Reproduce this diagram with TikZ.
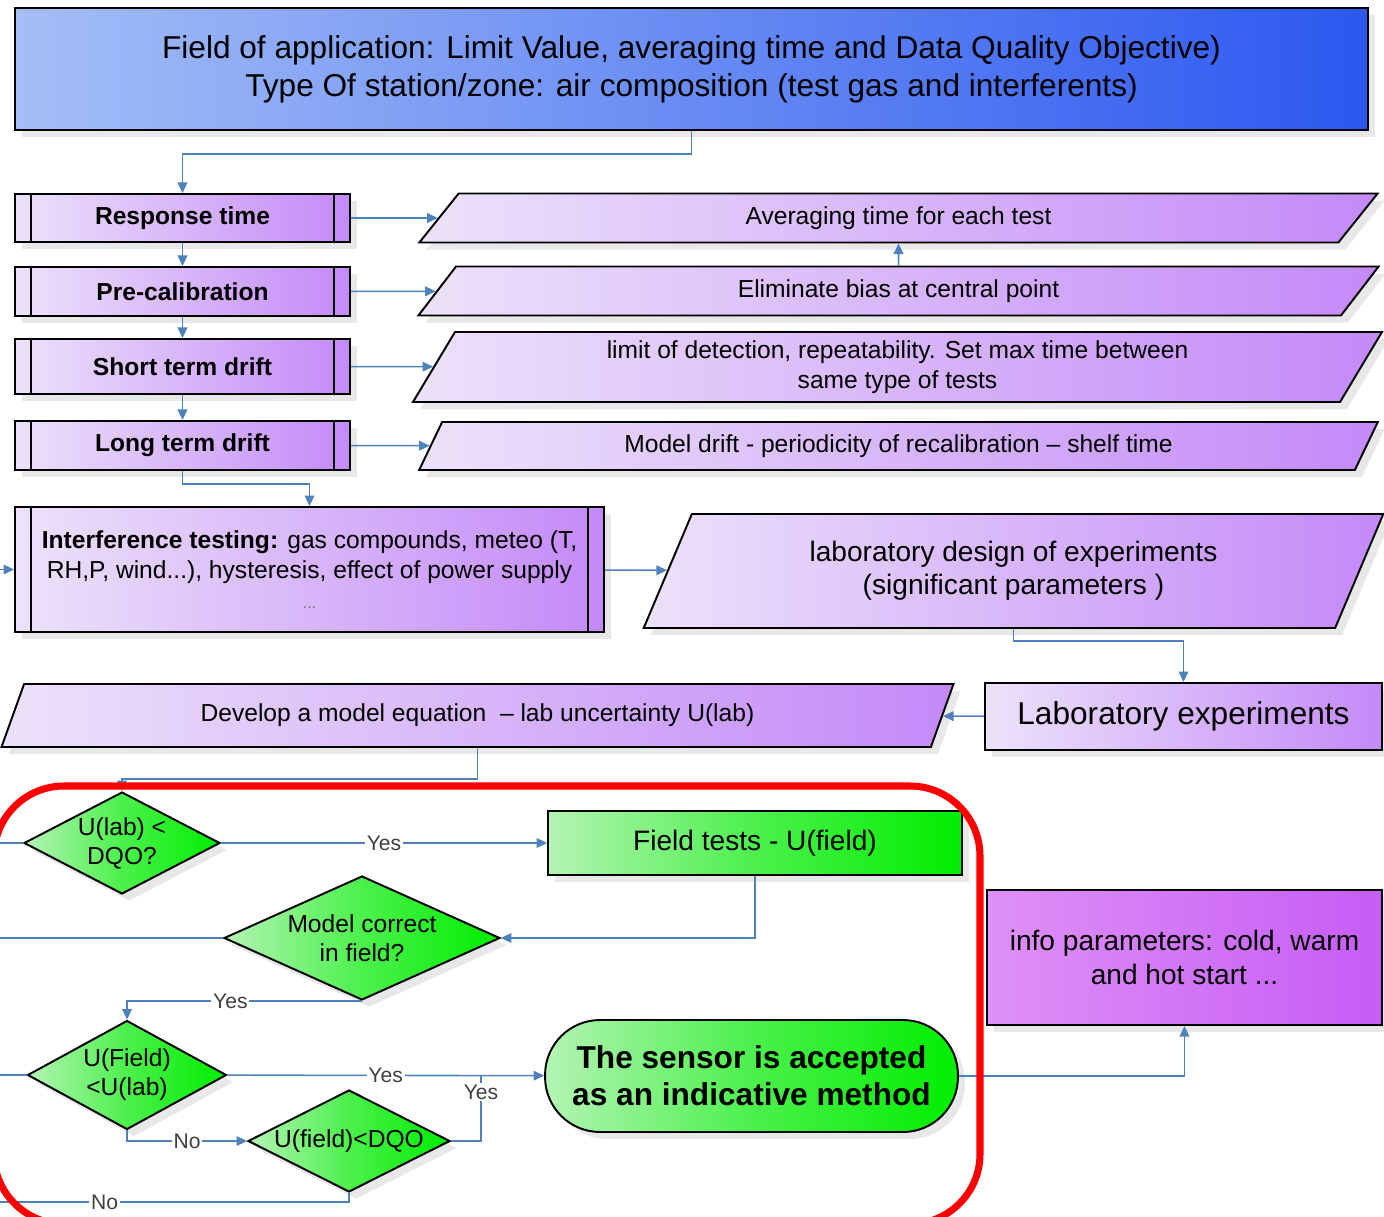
\documentclass[tikz,border=0pt]{standalone}
\usepackage{fontspec}
\setmainfont{Liberation Sans}
\usetikzlibrary{shapes.geometric,arrows.meta,shadows}
\definecolor{flowblue}{HTML}{4F81BD}
\definecolor{lavlight}{HTML}{ECE2FA}
\definecolor{lavdark}{HTML}{C48AF8}
\definecolor{magenlight}{HTML}{DE90F6}
\definecolor{magendark}{HTML}{C65CF5}
\definecolor{grnlight}{HTML}{B4F4B4}
\definecolor{grnmid}{HTML}{4CF04C}
\definecolor{grndark}{HTML}{00EE00}
\definecolor{toplight}{HTML}{A4BEF6}
\definecolor{topdark}{HTML}{2C58F0}
\newcommand{\fs}[2]{\fontsize{#1}{#2}\selectfont}
\begin{document}
\begin{tikzpicture}[x=0.02cm,y=-0.02cm,
        boxshadow/.style={drop shadow={shadow xshift=4pt,shadow yshift=-4pt,opacity=0.18}},
        lavbox/.style={draw,line width=1.1pt,left color=lavlight,right color=lavdark,boxshadow,align=center,inner sep=2pt},
        stepbox/.style={lavbox,rectangle,font=\fs{14}{17}\bfseries},
        parabox/.style={lavbox,trapezium,trapezium left angle=65,trapezium right angle=115,trapezium stretches=true,font=\fs{14}{17}},
        greenbox/.style={draw,line width=1.1pt,left color=grnlight,right color=grndark,middle color=grnmid,boxshadow,align=center},
        decide/.style={greenbox,diamond,shape aspect=2,inner sep=-4pt,font=\fs{14}{16.5}},
        conn/.style={flowblue,line width=0.9pt,-{Triangle[length=6pt,width=5.5pt]}},
        wire/.style={flowblue,line width=0.9pt},
        yesno/.style={fill=white,inner sep=1pt,text=black!75,font=\fs{12}{14}}]
        \useasboundingbox (0,0) rectangle (1384,1217);
        \coordinate (edge) at (0,0);
        \node[draw,line width=1.1pt,left color=toplight,right color=topdark,boxshadow,align=center,
              minimum width=27.06cm,minimum height=2.44cm,font=\fs{18}{21.5}] (app) at (691.5,69)
              {Field of application: Limit Value, averaging time and Data Quality Objective)\\Type Of station/zone: air composition (test gas and interferents)};
        \node[stepbox,minimum width=6.7cm,minimum height=0.96cm] (resp) at (182.5,218) {Response time};
        \node[stepbox,minimum width=6.7cm,minimum height=0.98cm] (precal) at (182.5,291.5) {Pre-calibration};
        \node[stepbox,minimum width=6.7cm,minimum height=1.1cm] (short) at (182.5,366.5) {Short term drift};
        \node[stepbox,minimum width=6.7cm,minimum height=0.98cm] (long) at (182.5,445.5) {Long term drift};
        \node[parabox,minimum width=19.22cm,minimum height=0.98cm] (avg) at (898.5,218) {Averaging time for each test};
        \node[parabox,minimum width=19.22cm,minimum height=0.98cm] (elim) at (898.5,291) {Eliminate bias at central point};
        \node[parabox,minimum width=19.46cm,minimum height=1.4cm] (lod) at (897.5,367) {limit of detection, repeatability. Set max time between\\same type of tests};
        \node[parabox,minimum width=19.22cm,minimum height=0.96cm] (mdrift) at (898.5,446) {Model drift - periodicity of recalibration – shelf time};
        \node[stepbox,minimum width=11.78cm,minimum height=2.5cm,font=\fs{14}{17}] (interf) at (309.5,569.5)
              {\textbf{Interference testing:} gas compounds, meteo (T,\\RH,P, wind...), hysteresis, effect of power supply\\{\fs{9}{11}\color{black!55}...}};
        \node[parabox,minimum width=14.82cm,minimum height=2.28cm,font=\fs{16}{19}] (design) at (1013.5,571) {laboratory design of experiments\\(significant parameters )};
        \node[lavbox,rectangle,minimum width=7.94cm,minimum height=1.34cm,font=\fs{18}{20}] (labexp) at (1183.5,716.5) {Laboratory experiments};
        \node[parabox,minimum width=19.1cm,minimum height=1.26cm] (model) at (477.5,715.5) {Develop a model equation \ – lab uncertainty U(lab)};
        \node[decide,minimum width=3.92cm,minimum height=2.04cm] (ulab) at (122,843) {U(lab) <\\DQO?};
        \node[greenbox,minimum width=8.28cm,minimum height=1.28cm,font=\fs{16}{18}] (field) at (755,843) {Field tests - U(field)};
        \node[decide,minimum width=5.52cm,minimum height=2.48cm] (mok) at (362,938) {Model correct\\in field?};
        \node[decide,minimum width=3.98cm,minimum height=2.18cm] (ufield) at (127,1075) {U(Field)\\<U(lab)};
        \node[decide,minimum width=4.04cm,minimum height=2.04cm] (udqo) at (349,1141) {U(field)<DQO};
        \node[greenbox,rounded corners=1.1cm,minimum width=8.26cm,minimum height=2.24cm,font=\fs{18}{21}\bfseries] (accept) at (751.5,1076)
              {The sensor is accepted\\as an indicative method};
        \node[draw,line width=1.1pt,left color=magenlight,right color=magendark,boxshadow,align=center,
              minimum width=7.9cm,minimum height=2.7cm,font=\fs{16}{19}] (info) at (1184.5,957.5) {info parameters: cold, warm\\and hot start ...};
        \foreach \n in {resp,precal,short,long,interf} {
            \draw[line width=1.1pt] ([xshift=0.34cm]\n.north west) -- ([xshift=0.34cm]\n.south west);
            \draw[line width=1.1pt] ([xshift=-0.34cm]\n.north east) -- ([xshift=-0.34cm]\n.south east);
        }
        \draw[conn] (app.south) -- ++(0,23) -| (resp.north);
        \foreach \a/\b in {resp/precal,precal/short,short/long}
            \draw[conn] (\a.south) -- (\b.north);
        \foreach \a/\b in {resp/avg,precal/elim,short/lod,long/mdrift}
            \draw[conn] (\a) -- (\b);
        \draw[conn] (elim) -- (avg);
        \draw[conn] (long.south) -- ++(0,13) -| (interf.north);
        \draw[conn] (interf.west -| edge) -- (interf.west);
        \draw[conn] (interf) -- (design);
        \draw[conn] (design.center |- design.south) -- ++(0,12) -| (labexp.north);
        \draw[conn] (labexp) -- (model);
        \draw[conn] (model.center |- model.south) -- ++(0,31) -| (ulab.north);
        \draw[conn] (ulab) -- node[yesno]{Yes} (field);
        \draw[conn] (field.south) |- (mok.east);
        \draw[conn] (mok.south) -| node[yesno,pos=0.28]{Yes} (ufield.north);
        \draw[conn] (ufield) -- node[yesno]{Yes} (accept);
        \draw[conn] (ufield.south) |- node[yesno,pos=0.75]{No} (udqo.west);
        \coordinate (join) at (481,1075);
        \coordinate (outno) at (0,1202);
        \draw[wire] (udqo.east) -| node[yesno,pos=0.87]{Yes} (join);
        \draw[wire] (udqo.south) |- node[yesno,pos=0.85]{No} (outno);
        \draw[conn] (accept.east) -| (info.south);
        \foreach \n in {ulab,mok,ufield}
            \draw[wire] (\n.west) -- (\n.west -| edge);
        \draw[red,line width=4pt,rounded corners=1.4cm] (-6,786) rectangle (980,1224);
\end{tikzpicture}
\end{document}
